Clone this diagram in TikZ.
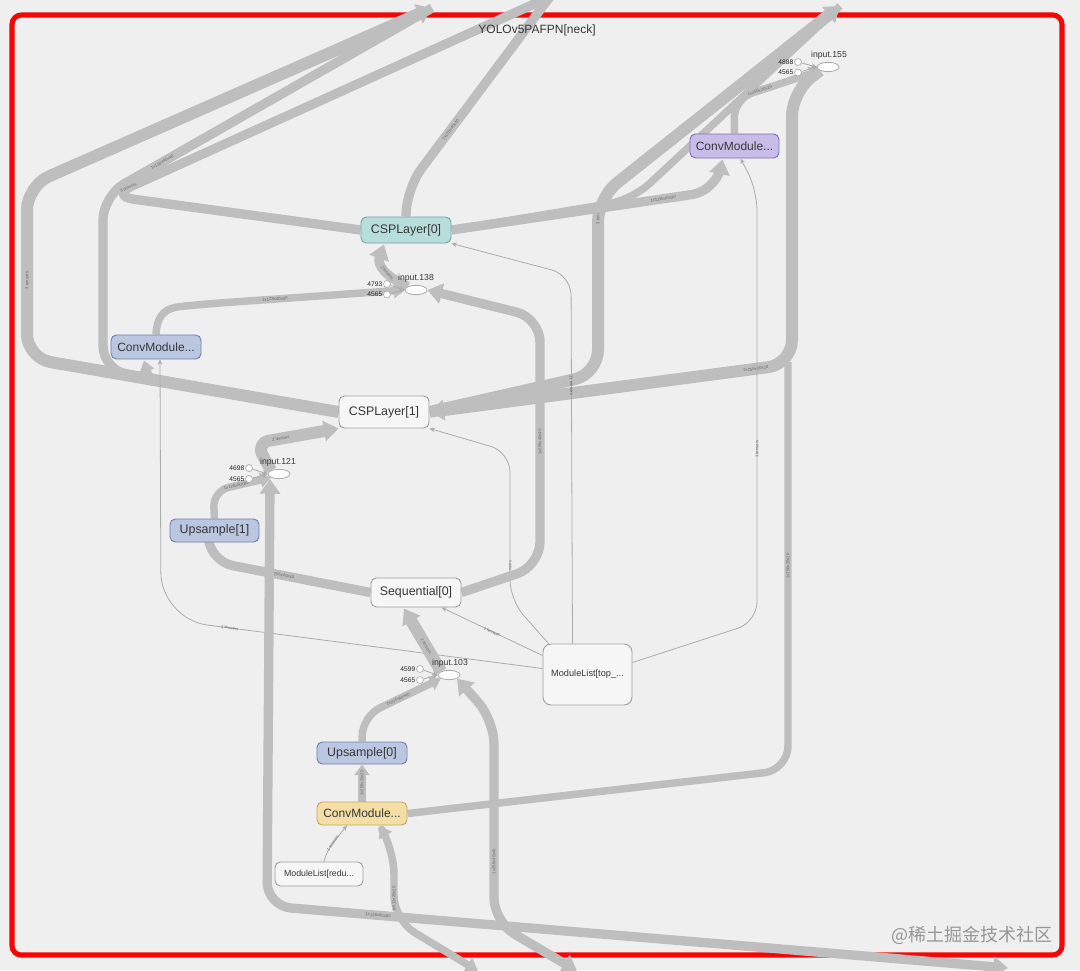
\documentclass[tikz,border=0pt]{standalone}
\usepackage{fontspec}
\setmainfont{Liberation Sans}
\newfontfamily\cjkfont{Noto Sans CJK SC}
\usetikzlibrary{arrows.meta,calc,shapes.geometric}
\pgfdeclarelayer{backl}
\pgfdeclarelayer{edgel}
\pgfsetlayers{backl,edgel,main}
\definecolor{bgc}{RGB}{239,239,239}
\definecolor{redc}{RGB}{245,5,5}
\definecolor{edgec}{RGB}{190,190,190}
\definecolor{thinc}{RGB}{172,172,172}
\definecolor{labc}{RGB}{105,105,105}
\definecolor{txtc}{RGB}{55,55,55}
\definecolor{tealf}{RGB}{184,222,220}
\definecolor{tealb}{RGB}{118,165,165}
\definecolor{purf}{RGB}{200,189,233}
\definecolor{purb}{RGB}{128,112,186}
\definecolor{bluef}{RGB}{187,199,224}
\definecolor{blueb}{RGB}{112,130,172}
\definecolor{yelf}{RGB}{244,222,166}
\definecolor{yelb}{RGB}{196,168,100}
\definecolor{whf}{RGB}{246,246,246}
\definecolor{whb}{RGB}{160,160,160}
\definecolor{wmc}{RGB}{150,150,150}
\begin{document}
\begin{tikzpicture}[x=0.75pt,y=-0.75pt,
  nbox/.style={draw, rounded corners=4pt, line width=0.7pt, inner sep=0pt, text=txtc,
    font=\fontsize{9.3}{10}\selectfont},
  nteal/.style={nbox, fill=tealf, draw=tealb},
  npur/.style={nbox, fill=purf, draw=purb},
  nblue/.style={nbox, fill=bluef, draw=blueb},
  nyel/.style={nbox, fill=yelf, draw=yelb},
  nwhite/.style={nbox, fill=whf, draw=whb},
  ell/.style={ellipse, draw=thinc, fill=white, line width=0.6pt, minimum width=16.5pt, minimum height=7pt, inner sep=0pt},
  kdot/.style={circle, draw=thinc, fill=white, line width=0.5pt, minimum size=5.2pt, inner sep=0pt},
  inlab/.style={font=\fontsize{6.5}{7}\selectfont, text=txtc, inner sep=0pt},
  numlab/.style={font=\fontsize{5}{5.5}\selectfont, text=black!85, inner sep=0pt, anchor=east},
  ed/.style={draw=edgec, line cap=butt, line join=round, rounded corners=18pt},
  ewA/.style={ed, line width=9pt},
  ewB/.style={ed, line width=7pt},
  ewC/.style={ed, line width=5.6pt},
  ewD/.style={ed, line width=4.5pt},
  thinl/.style={draw=thinc, line width=0.6pt, rounded corners=15pt},
  tipA/.style={-{Triangle[length=11pt,width=15pt]}},
  tipS/.style={-{Triangle[length=8pt,width=11pt]}},
  tipT/.style={-{Stealth[length=4pt,width=3.5pt]}},
  tipBoth/.style={{Triangle[length=11pt,width=15pt]}-{Triangle[length=11pt,width=15pt]}},
  tipBothS/.style={{Triangle[length=9pt,width=12pt]}-{Triangle[length=8pt,width=11pt]}},
  elab/.style={font=\fontsize{3.2}{3.5}\selectfont, text=labc, inner sep=0.6pt, sloped}
]
\useasboundingbox (0,0) rectangle (1080,970);
\begin{pgfonlayer}{backl}
\fill[bgc] (0,0) rectangle (1080,970);
\draw[redc, line width=3.8pt, rounded corners=7pt] (12,15) rectangle (1062,955);
\end{pgfonlayer}

% title and watermark
\node[font=\fontsize{9}{10}\selectfont, text=txtc] (title) at (537,30) {YOLOv5PAFPN[neck]};
\node[anchor=east, text=wmc, font=\cjkfont\fontsize{13.5}{15}\selectfont] (wm) at (1057,935) {@稀土掘金技术社区};

% op nodes
\node[nteal, minimum width=67.5pt, minimum height=19.5pt] (csp0) at (406,230) {CSPLayer[0]};
\node[npur, minimum width=66.75pt, minimum height=18pt, font=\fontsize{9}{10}\selectfont] (convP) at (734.5,146) {ConvModule...};
\node[nblue, minimum width=67.5pt, minimum height=18pt, font=\fontsize{9}{10}\selectfont] (convB) at (156,347) {ConvModule...};
\node[nwhite, minimum width=67.5pt, minimum height=24pt] (csp1) at (384,412) {CSPLayer[1]};
\node[nblue, minimum width=66.75pt, minimum height=17.25pt] (ups1) at (214.5,530.5) {Upsample[1]};
\node[nwhite, minimum width=67.5pt, minimum height=21.75pt] (seq) at (416,592.5) {Sequential[0]};
\node[nwhite, rounded corners=6pt, minimum width=66.75pt, minimum height=45.75pt, font=\fontsize{6.9}{8}\selectfont] (mlt) at (587.5,674.5) {ModuleList[top\_...};
\node[nblue, minimum width=67.5pt, minimum height=16.5pt] (ups0) at (362,753) {Upsample[0]};
\node[nyel, minimum width=67.5pt, minimum height=17.25pt, font=\fontsize{9}{10}\selectfont] (convY) at (362,813.5) {ConvModule...};
\node[nwhite, minimum width=66pt, minimum height=18pt, font=\fontsize{6.6}{7}\selectfont] (mlr) at (319,874) {ModuleList[redu...};

% concat ellipses, labels and constant inputs
\node[ell] (i155) at (828,67) {};
\node[inlab] (i155l) at (829,55.5) {input.155};
\node[kdot] (k155a) at (798,62) {};
\node[kdot] (k155b) at (798,72.5) {};
\node[numlab] (n155a) at (793.5,62) {4888};
\node[numlab] (n155b) at (793.5,72.5) {4565};

\node[ell] (i138) at (416,290) {};
\node[inlab] (i138l) at (416,278) {input.138};
\node[kdot] (k138a) at (387,284) {};
\node[kdot] (k138b) at (387,294.5) {};
\node[numlab] (n138a) at (382.5,284) {4793};
\node[numlab] (n138b) at (382.5,294.5) {4565};

\node[ell] (i121) at (279,474) {};
\node[inlab] (i121l) at (278,462) {input.121};
\node[kdot] (k121a) at (249,468) {};
\node[kdot] (k121b) at (249,479) {};
\node[numlab] (n121a) at (244.5,468) {4698};
\node[numlab] (n121b) at (244.5,479) {4565};

\node[ell] (i103) at (449,675) {};
\node[inlab] (i103l) at (450,663) {input.103};
\node[kdot] (k103a) at (420,669) {};
\node[kdot] (k103b) at (420,680) {};
\node[numlab] (n103a) at (415.5,669) {4599};
\node[numlab] (n103b) at (415.5,680) {4565};

% free ends
\coordinate (exA) at (432,8);
\coordinate (exB) at (565,-10);
\coordinate (exB2) at (552,-6);
\coordinate (exC) at (840,6);
\coordinate (bxA) at (1008,968);
\coordinate (bxB) at (577,971);
\coordinate (bxC) at (478,971);
\coordinate (r3top) at (788,362);

\begin{pgfonlayer}{edgel}
% left outgoing bands
\draw[ewA, tipA] (csp1.west) -- (27,358) -- node[elab, pos=0.45]{3 tensors} (27,186) -- (exA);
\draw[ewB] (csp1.west) -- (103,370) -- (103,196) -- node[elab, pos=0.18]{1x128x40x40} (exA);
\draw[ewC, tipS, rounded corners=8pt] (csp1.west) -- (150,381) -- ($(convB.south)+(-12,1)$);
\draw[ewB] (csp0.west) -- (110,196) -- node[elab, pos=0.04]{3 tensors} (exB);
\draw[ewB] (csp0.north) -- (407,188) -- node[elab, pos=0.3]{1x128x40x40} (exB2);

% right bands
\draw[ewA, tipA] (csp1.east) -- (598,374) -- node[elab, pos=0.9]{3 tensors} (598,198) -- (exC);
\draw[ewC] (csp0.east) -- (632,200) -- (exC);
\draw[ewB, tipA] (csp0.east) -- node[elab, pos=0.8]{1x128x40x40} (716,191) -- ($(convP.south)+(-12,1)$);
\draw[ewC, tipS, rounded corners=14pt] (convP.north) -- (734,99) -- node[elab, pos=0.3]{1x256x20x20} (i155.south west);
\draw[ewA, tipA] (i155.south west) -- (792,92) -- (792,364) -- node[elab, pos=0.1]{1x256x20x20} (csp1.east);
\draw[ewC] (convY.east) -- (788,770) -- node[elab, pos=0.5]{1x256x20x20} (r3top);

% thin edges from ModuleList[top_...]
\draw[thinl, tipT] ($(mlt.east)+(0,-12)$) -- (757,622) -- node[elab, pos=0.4]{1 tensors} (757,190) -- ($(convP.south)+(6,0)$);
\draw[thinl, tipT] ($(mlt.north)+(-15,0)$) -- node[elab, pos=0.7]{11 tensors} (571,275) -- (csp0.south east);
\draw[thinl, tipT] ($(mlt.north west)+(6,0)$) -- (510,600) -- node[elab, pos=0.2]{44 tensors} (510,452) -- (csp1.south east);
\draw[thinl, tipT] ($(mlt.west)+(0,-19)$) -- node[elab, pos=0.5]{1 tensors} ($(seq.south east)+(-20,0)$);
\draw[thinl, tipT, rounded corners=35pt] ($(mlt.west)+(0,-6)$) -- node[elab, pos=0.82]{1 tensors} (161,619) -- ($(convB.south)+(4,0)$);

% Sequential[0]
\draw[ewB, tipA] (seq.east) -- (540,566) -- node[elab, pos=0.5]{1x256x40x40} (540,318) -- (i138.east);
\draw[ewB, tipA] (seq.west) -- node[elab, pos=0.55]{1x256x40x40} (209,561) -- ($(ups1.south)+(-6,0)$);

% input.121 group
\draw[ewC, tipS, rounded corners=12pt] (ups1.north) -- (213,491) -- node[elab, pos=0.4]{1x128x80x80} (i121.south west);
\draw[ewA, tipA, rounded corners=10pt] (i121.north west) -- (256,443) -- node[elab, pos=0.3]{2 tensors} (csp1.south west);
\draw[ewB, tipBoth] (bxA) -- node[elab, pos=0.85]{1x128x80x80} (267,906) -- ($(i121.south)+(-9,0)$);

% input.138 group
\draw[ewC, tipS] (convB.north) .. controls (157,314) and (166,308) .. (205,304) -- node[elab, pos=0.35]{1x128x40x40} (i138.west);
\draw[ewB, tipA] (i138.north west) .. controls (384,276) and (377,264) .. node[elab, pos=0.4]{2 tensors} ($(csp0.south)+(-22,1)$);

% input.103 group
\draw[ewA, tipA] (i103.north west) -- node[elab, pos=0.4]{2 tensors} ($(seq.south)+(-12,1)$);
\draw[ewC, tipS, rounded corners=14pt] (ups0.north) -- (363,716) -- node[elab, pos=0.45]{1x256x40x40} (i103.south west);
\draw[ewB, tipBoth] (bxB) -- (494,922) -- node[elab, pos=0.3]{1x256x40x40} (494,720) -- (i103.south east);
\draw[ewC, tipBothS] (bxC) -- (394,920) -- node[elab, pos=0.3]{1x512x20x20} (394,850) -- ($(convY.south)+(18,1)$);

% bottom chain
\draw[ewC, tipS] (convY.north) -- node[elab, pos=0.5]{1x256x20x20} (ups0.south);
\draw[thinl, tipT] ($(mlr.north)+(5,0)$) .. controls (327,848) and (337,838) .. node[elab, pos=0.5]{1 tensors} ($(convY.south)+(-15,0)$);

% constant inputs into concat nodes
\draw[thinl, tipT] (k155a) -- (i155.west);
\draw[thinl, tipT] (k155b) -- (i155.west);
\draw[thinl, tipT] (k138a) -- (i138.west);
\draw[thinl, tipT] (k138b) -- (i138.west);
\draw[thinl, tipT] (k121a) -- (i121.west);
\draw[thinl, tipT] (k121b) -- (i121.west);
\draw[thinl, tipT] (k103a) -- (i103.west);
\draw[thinl, tipT] (k103b) -- (i103.west);
\end{pgfonlayer}
\end{tikzpicture}
\end{document}
